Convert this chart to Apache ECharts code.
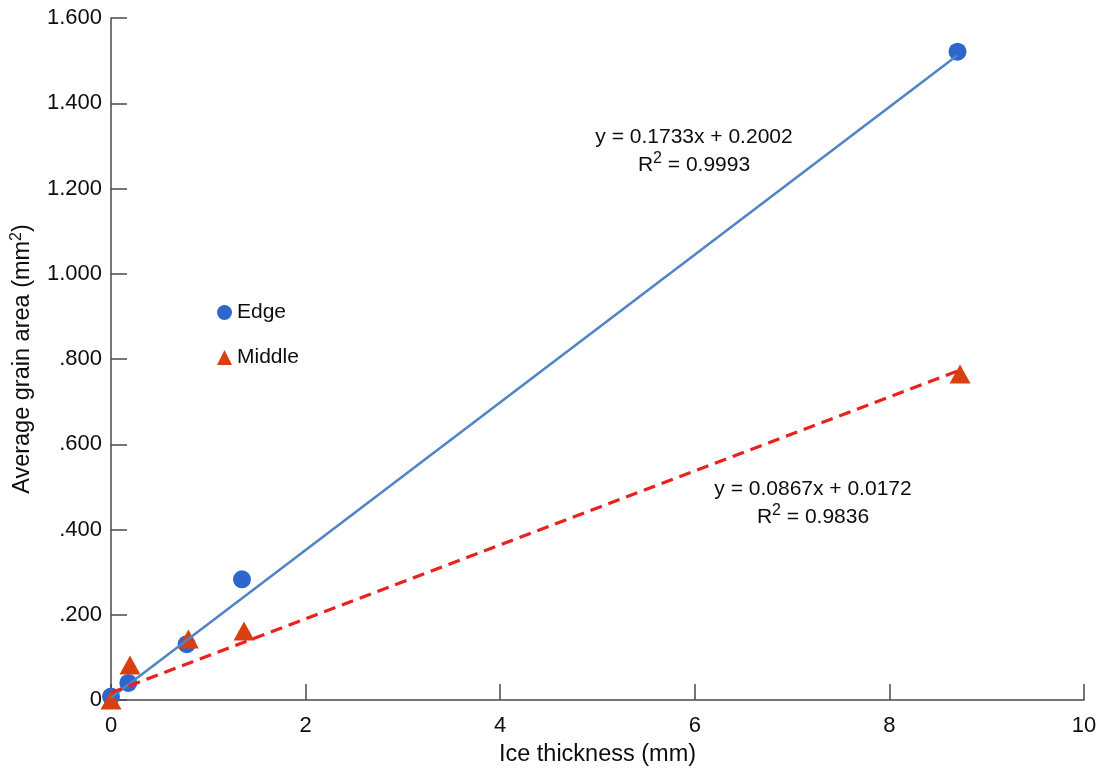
<!DOCTYPE html>
<html>
<head>
<meta charset="utf-8">
<script src="https://cdn.jsdelivr.net/npm/echarts@6/dist/echarts.min.js"></script>
<style>
html,body{margin:0;padding:0;background:#fff;}
#chart{width:1102px;height:772px;}
</style>
</head>
<body>
<div id="chart"></div>
<script>
// ---- data ----
const edgeX = [0, 0.178, 0.778, 1.346, 8.70];
const edgeY = [0.008, 0.040, 0.131, 0.283, 1.521];
const middleX = [0, 0.195, 0.795, 1.367, 8.726];
const middleY = [0.000, 0.082, 0.143, 0.162, 0.765];
// trendlines: [slope, intercept], drawn over [xStart, xEnd]
const edgeTrend = [0.1733, 0.005];
const edgeTrendRange = [0, 8.70];
const middleTrend = [0.0867, 0.0172];
const middleTrendRange = [0, 8.726];
const yTickLabels = ['0', '.200', '.400', '.600', '.800', '1.000', '1.200', '1.400', '1.600'];
const xTickLabels = ['0', '2', '4', '6', '8', '10'];
const edgeEq = ['y = 0.1733x + 0.2002', '0.9993'];
const middleEq = ['y = 0.0867x + 0.0172', '0.9836'];

const FONT = '"Liberation Sans", Arial, sans-serif';
const zip = (xs, ys) => xs.map((x, i) => [x, ys[i]]);
const trendPts = (t, r) => r.map(x => [x, t[0] * x + t[1]]);

const chart = echarts.init(document.getElementById('chart'), null, {renderer: 'canvas'});
const axisCol = '#4a4a4a';
const txtCol = '#0d0d0d';
chart.setOption({
  backgroundColor: '#fff',
  animation: false,
  textStyle: {fontFamily: FONT},
  grid: {left: 111, right: 18, top: 18, bottom: 71},
  legend: {
    orient: 'vertical',
    left: 212, top: 297,
    itemWidth: 15, itemHeight: 15, itemGap: 24,
    textStyle: {fontSize: 21, color: txtCol, fontFamily: FONT},
    data: ['Edge', 'Middle']
  },
  xAxis: {
    type: 'value', min: 0, max: 10, interval: 2,
    name: 'Ice thickness (mm)', nameLocation: 'middle', nameGap: 43,
    nameTextStyle: {fontSize: 23.5, color: txtCol, fontFamily: FONT},
    axisLine: {show: true, lineStyle: {color: axisCol, width: 1.5}},
    axisTick: {show: true, inside: true, length: 16, lineStyle: {color: axisCol, width: 1.5}},
    axisLabel: {fontSize: 22, color: txtCol, margin: 15, fontFamily: FONT,
      formatter: v => xTickLabels[Math.round(v / 2)]},
    splitLine: {show: false}
  },
  yAxis: {
    type: 'value', min: 0, max: 1.6, interval: 0.2,
    name: 'Average grain area (mm{sup|2})', nameLocation: 'middle', nameGap: 71,
    nameTextStyle: {fontSize: 23.5, color: txtCol, fontFamily: FONT, lineHeight: 27,
      rich: {sup: {fontSize: 16, verticalAlign: 'top', lineHeight: 18, color: txtCol, fontFamily: FONT}}},
    axisLine: {show: true, lineStyle: {color: axisCol, width: 1.5}},
    axisTick: {show: true, inside: true, length: 16, lineStyle: {color: axisCol, width: 1.5}},
    axisLabel: {fontSize: 22, color: txtCol, margin: 9, fontFamily: FONT,
      formatter: v => yTickLabels[Math.round(v / 0.2)]},
    splitLine: {show: false}
  },
  series: [
    {
      name: 'Edge', type: 'scatter', symbol: 'circle', symbolSize: 18,
      itemStyle: {color: '#2d66cc', opacity: 1}, z: 2,
      data: zip(edgeX, edgeY)
    },
    {
      name: 'Middle', type: 'scatter', symbol: 'triangle', symbolSize: [21, 19],
      itemStyle: {color: '#d9400f', opacity: 1}, z: 2,
      data: zip(middleX, middleY)
    },
    {
      name: 'EdgeTrend', type: 'line', showSymbol: false, symbol: 'none', z: 3,
      lineStyle: {color: '#4f84c4', width: 2.5},
      data: trendPts(edgeTrend, edgeTrendRange)
    },
    {
      name: 'MiddleTrend', type: 'line', showSymbol: false, symbol: 'none', z: 3,
      lineStyle: {color: '#e8221c', width: 3.2, type: [12, 7]},
      data: trendPts(middleTrend, middleTrendRange)
    }
  ],
  graphic: [
    {
      type: 'text', x: 694, y: 151, z: 10,
      style: {
        text: edgeEq[0] + '\n' + 'R{sup|2} = ' + edgeEq[1],
        align: 'center', verticalAlign: 'middle',
        fontSize: 21, fontFamily: FONT, fill: txtCol, lineHeight: 28,
        rich: {sup: {fontSize: 16, verticalAlign: 'top', lineHeight: 21, fill: txtCol, fontFamily: FONT}}
      }
    },
    {
      type: 'text', x: 813, y: 503, z: 10,
      style: {
        text: middleEq[0] + '\n' + 'R{sup|2} = ' + middleEq[1],
        align: 'center', verticalAlign: 'middle',
        fontSize: 21, fontFamily: FONT, fill: txtCol, lineHeight: 28,
        rich: {sup: {fontSize: 16, verticalAlign: 'top', lineHeight: 21, fill: txtCol, fontFamily: FONT}}
      }
    }
  ]
});
</script>
</body>
</html>
